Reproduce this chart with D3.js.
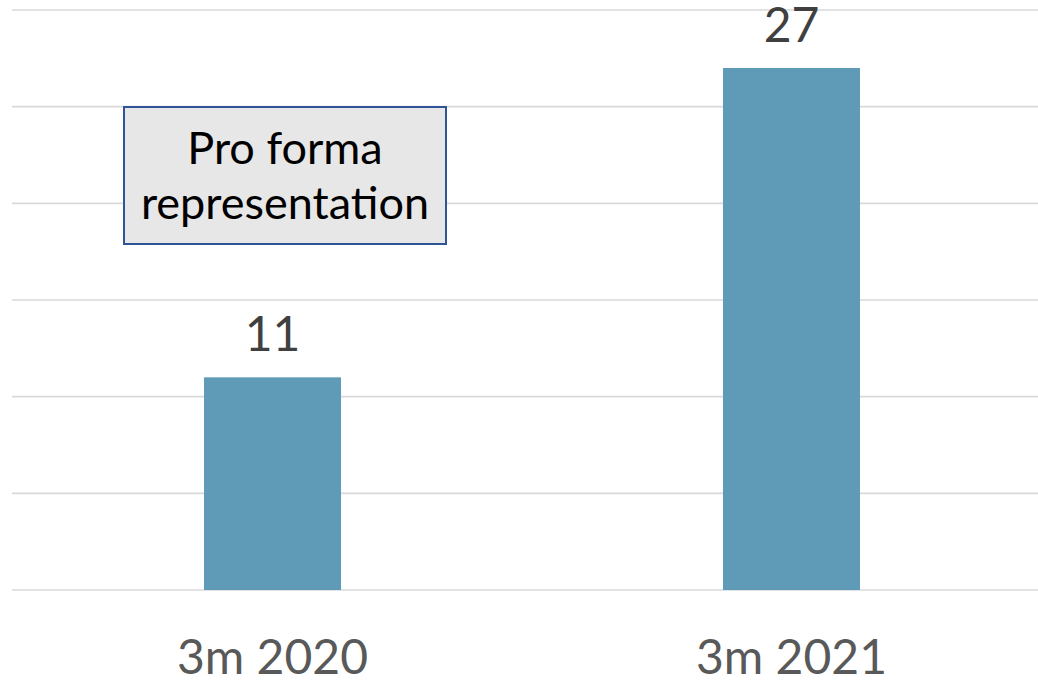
<!DOCTYPE html>
<html>
<head>
<meta charset="utf-8">
<script src="https://cdn.jsdelivr.net/npm/d3@7"></script>
<style>
  html, body { margin: 0; padding: 0; background: #fff; }
  svg { display: block; }
</style>
</head>
<body>
<svg id="chart" width="1038" height="680"></svg>
<script>
const categories = ["3m 2020", "3m 2021"];
const values = [11, 27];
const yTicks = [0, 5, 10, 15, 20, 25, 30];
const noteLines = ["Pro forma", "representation"];

const W = 1038, H = 680;
const svg = d3.select("#chart");
const FONT = "Lato, 'Open Sans', sans-serif";

const x = d3.scaleBand().domain(categories).range([13, 1051])
  .paddingInner(0.736).paddingOuter(0.368);
const y = d3.scaleLinear().domain([0, 30]).range([590, 10]);

// gridlines
svg.append("g").selectAll("line").data(yTicks).join("line")
  .attr("x1", 12).attr("x2", W)
  .attr("y1", d => y(d)).attr("y2", d => y(d))
  .attr("stroke", "#d9d9d9").attr("stroke-width", 1.6);

// bars
svg.append("g").selectAll("rect").data(values).join("rect")
  .attr("x", (d, i) => x(categories[i]))
  .attr("width", x.bandwidth())
  .attr("y", d => y(d))
  .attr("height", d => y(0) - y(d))
  .attr("fill", "#5f9bb6");

// value labels
svg.append("g").selectAll("text").data(values).join("text")
  .attr("x", (d, i) => x(categories[i]) + x.bandwidth() / 2)
  .attr("y", d => y(d) - 26)
  .attr("text-anchor", "middle")
  .attr("font-family", FONT).attr("font-size", 48)
  .attr("fill", "#404040")
  .text(d => d);

// category labels
svg.append("g").selectAll("text").data(categories).join("text")
  .attr("x", d => x(d) + x.bandwidth() / 2)
  .attr("y", 674)
  .attr("text-anchor", "middle")
  .attr("font-family", FONT).attr("font-size", 48)
  .attr("fill", "#595959")
  .text(d => d);

// annotation box
const note = svg.append("g");
note.append("rect")
  .attr("x", 124).attr("y", 107).attr("width", 322).attr("height", 137)
  .attr("fill", "#e7e7e7").attr("stroke", "#2f5597").attr("stroke-width", 2);
note.selectAll("text").data(noteLines).join("text")
  .attr("x", 285)
  .attr("y", (d, i) => 164 + i * 55)
  .attr("text-anchor", "middle")
  .attr("font-family", FONT).attr("font-size", 45)
  .attr("fill", "#000")
  .text(d => d);
</script>
</body>
</html>
